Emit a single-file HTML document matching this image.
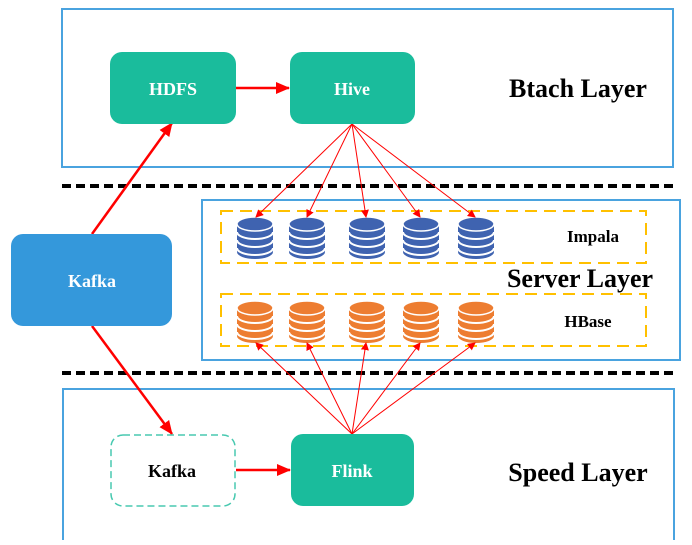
<!DOCTYPE html>
<html><head><style>
body{margin:0;width:692px;height:540px;background:#fff;overflow:hidden;font-family:"Liberation Serif",serif;}
</style></head><body>
<svg width="692" height="540" xmlns="http://www.w3.org/2000/svg">
<defs>
<marker id="a" markerWidth="8" markerHeight="8" refX="7" refY="4" orient="auto" markerUnits="userSpaceOnUse"><path d="M0,0 L8,4 L0,8 Z" fill="#f00"/></marker>
<marker id="b" markerWidth="14" markerHeight="12" refX="13" refY="6" orient="auto" markerUnits="userSpaceOnUse"><path d="M0,0 L14,6 L0,12 Z" fill="#f00"/></marker>
<g id="cb"><ellipse cx="0" cy="34" rx="18" ry="7" fill="#3f63b0"/><rect x="-18" y="6" width="36" height="28" fill="#3f63b0"/>
<path d="M-18,14 A18,7 0 0 0 18,14 M-18,22 A18,7 0 0 0 18,22 M-18,30 A18,7 0 0 0 18,30" stroke="#fff" stroke-width="2" fill="none"/>
<ellipse cx="0" cy="6" rx="18" ry="7" fill="#3f63b0" stroke="#fff" stroke-width="1.5"/></g>
<g id="co"><ellipse cx="0" cy="34" rx="18" ry="7" fill="#ed7d31"/><rect x="-18" y="6" width="36" height="28" fill="#ed7d31"/>
<path d="M-18,14 A18,7 0 0 0 18,14 M-18,22 A18,7 0 0 0 18,22 M-18,30 A18,7 0 0 0 18,30" stroke="#fff" stroke-width="2" fill="none"/>
<ellipse cx="0" cy="6" rx="18" ry="7" fill="#ed7d31" stroke="#fff" stroke-width="1.5"/></g>
</defs>
<rect x="62" y="9" width="611" height="158" fill="none" stroke="#4aa3df" stroke-width="2"/>
<line x1="62" y1="186" x2="673" y2="186" stroke="#000" stroke-width="4" stroke-dasharray="9,5"/>
<rect x="202" y="200" width="478" height="160" fill="none" stroke="#4aa3df" stroke-width="2"/>
<line x1="62" y1="373" x2="673" y2="373" stroke="#000" stroke-width="4" stroke-dasharray="9,5"/>
<rect x="63" y="389" width="611" height="160" fill="none" stroke="#4aa3df" stroke-width="2"/>
<rect x="221" y="211" width="425" height="52" fill="none" stroke="#ffc000" stroke-width="2" stroke-dasharray="12,7"/>
<rect x="221" y="294" width="425" height="52" fill="none" stroke="#ffc000" stroke-width="2" stroke-dasharray="12,7"/>
<use href="#cb" x="255" y="218"/><use href="#cb" x="307" y="218"/><use href="#cb" x="367" y="218"/><use href="#cb" x="421" y="218"/><use href="#cb" x="476" y="218"/>
<use href="#co" x="255" y="302"/><use href="#co" x="307" y="302"/><use href="#co" x="367" y="302"/><use href="#co" x="421" y="302"/><use href="#co" x="476" y="302"/>
<g stroke="#f00" stroke-width="1" marker-end="url(#a)">
<line x1="352" y1="124" x2="256" y2="217"/><line x1="352" y1="124" x2="307" y2="217"/><line x1="352" y1="124" x2="366" y2="217"/><line x1="352" y1="124" x2="420" y2="217"/><line x1="352" y1="124" x2="475" y2="217"/>
<line x1="352" y1="434" x2="256" y2="343"/><line x1="352" y1="434" x2="307" y2="343"/><line x1="352" y1="434" x2="366" y2="343"/><line x1="352" y1="434" x2="420" y2="343"/><line x1="352" y1="434" x2="475" y2="343"/>
</g>
<g stroke="#f00" stroke-width="2.5" marker-end="url(#b)">
<line x1="236" y1="88" x2="289" y2="88"/>
<line x1="92" y1="234" x2="172" y2="123"/>
<line x1="92" y1="326" x2="172" y2="434"/>
<line x1="236" y1="470" x2="290" y2="470"/>
</g>
<rect x="11" y="234" width="161" height="92" rx="12" fill="#3498db"/>
<rect x="110" y="52" width="126" height="72" rx="12" fill="#1abc9c"/>
<rect x="290" y="52" width="125" height="72" rx="12" fill="#1abc9c"/>
<rect x="111" y="435" width="124" height="71" rx="12" fill="#fff" stroke="#48c9b0" stroke-width="1.5" stroke-dasharray="7,4"/>
<rect x="291" y="434" width="123" height="72" rx="12" fill="#1abc9c"/>
<g font-family="Liberation Serif,serif" font-weight="bold" text-anchor="middle">
<text x="173" y="95" font-size="18" fill="#fff">HDFS</text>
<text x="352" y="95" font-size="18" fill="#fff">Hive</text>
<text x="92" y="287" font-size="18" fill="#fff">Kafka</text>
<text x="172" y="477" font-size="18" fill="#000">Kafka</text>
<text x="352" y="477" font-size="18" fill="#fff">Flink</text>
<text x="578" y="97" font-size="26" fill="#000">Btach Layer</text>
<text x="580" y="287" font-size="26" fill="#000">Server Layer</text>
<text x="578" y="481" font-size="26" fill="#000">Speed Layer</text>
<text x="593" y="242" font-size="17" fill="#000">Impala</text>
<text x="588" y="327" font-size="17" fill="#000">HBase</text>
</g>
</svg>
</body></html>
